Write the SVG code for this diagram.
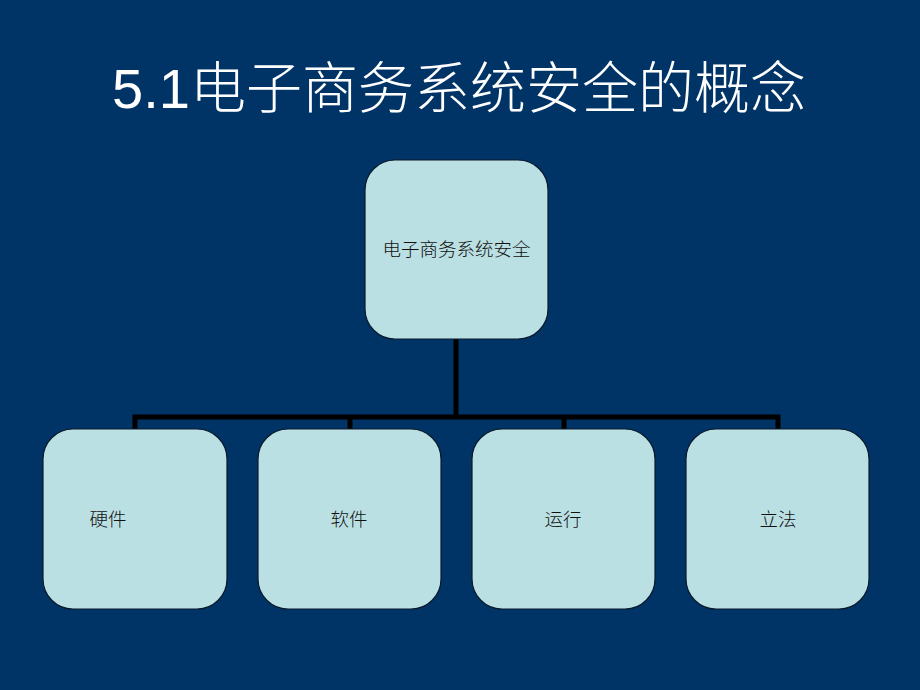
<svg xmlns="http://www.w3.org/2000/svg" width="920" height="690" viewBox="0 0 920 690">
<style>
.node{fill:#BBE0E3;stroke:#0a1a2a;stroke-width:1.2}
.lbl{font-family:"Liberation Sans","Noto Sans CJK SC",sans-serif;font-size:18.5px;font-weight:300;fill:#111;text-anchor:middle}
.title{font-family:"Liberation Sans","Noto Sans CJK SC",sans-serif;font-size:56px;font-weight:300;fill:#fff;text-anchor:middle}
.conn{fill:none;stroke:#000;stroke-width:5}
</style>
<rect width="920" height="690" fill="#003366"/>
<text class="title" x="459" y="108">5.1电子商务系统安全的概念</text>
<g id="connectors">
<path class="conn" d="M456,339 V417"/>
<path class="conn" d="M135,430 V417 H778 V430"/>
<path class="conn" d="M350,417 V430"/>
<path class="conn" d="M564,417 V430"/>
</g>
<g id="root">
<rect class="node" x="365" y="160" width="183" height="179" rx="30"/>
<text class="lbl" x="456.5" y="256">电子商务系统安全</text>
</g>
<g id="n1">
<rect class="node" x="43" y="429" width="184" height="180" rx="30"/>
<text class="lbl" x="108" y="526">硬件</text>
</g>
<g id="n2">
<rect class="node" x="258" y="429" width="183" height="180" rx="30"/>
<text class="lbl" x="349" y="526">软件</text>
</g>
<g id="n3">
<rect class="node" x="472" y="429" width="183" height="180" rx="30"/>
<text class="lbl" x="563" y="526">运行</text>
</g>
<g id="n4">
<rect class="node" x="686" y="429" width="183" height="180" rx="30"/>
<text class="lbl" x="778" y="526">立法</text>
</g>
</svg>
